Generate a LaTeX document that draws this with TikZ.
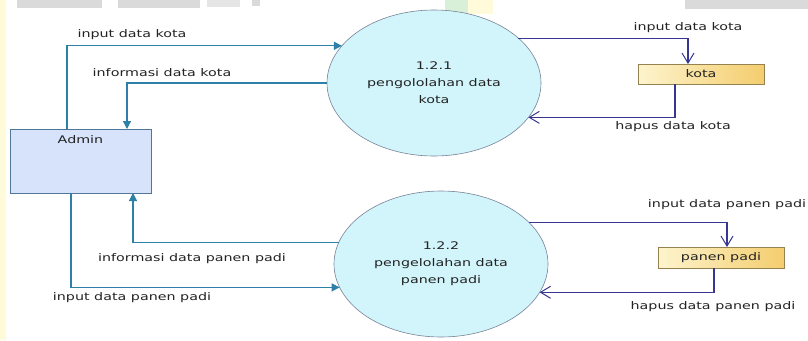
\documentclass[tikz,border=0pt]{standalone}
\usepackage{fontspec}
\setmainfont{DejaVu Sans}[FakeStretch=1.36]
\usetikzlibrary{shapes.geometric,arrows.meta}
\definecolor{leftc}{RGB}{45,128,168}
\definecolor{rightc}{RGB}{55,55,145}
\definecolor{adminfill}{RGB}{214,227,250}
\definecolor{adminborder}{RGB}{80,120,150}
\definecolor{procfill}{RGB}{210,245,252}
\definecolor{procborder}{RGB}{120,130,150}
\definecolor{storeL}{RGB}{253,244,205}
\definecolor{storeR}{RGB}{244,205,110}
\definecolor{storeborder}{RGB}{150,130,80}
\definecolor{noisegray}{RGB}{218,218,218}
\definecolor{noiseyellow}{RGB}{255,251,218}
\definecolor{noisegreen}{RGB}{215,240,215}
\definecolor{txt}{RGB}{35,35,35}
\tikzset{
  txtstyle/.style={font=\fontsize{10.5}{17}\selectfont, text=txt},
  entity/.style={draw=adminborder, line width=0.9pt, fill=adminfill, rectangle, minimum width=141pt, minimum height=64pt, inner sep=0pt, outer sep=0pt},
  proc/.style={draw=procborder, line width=0.6pt, fill=procfill, ellipse, minimum width=214pt, minimum height=146pt, inner sep=0pt, outer sep=0pt, align=center, txtstyle},
  store/.style={draw=storeborder, line width=0.7pt, left color=storeL, right color=storeR, rectangle, minimum width=126pt, minimum height=20pt, inner sep=0pt, outer sep=0pt, txtstyle},
  flowL/.style={draw=leftc, line width=1.2pt, -{Triangle[length=8pt,width=8pt]}},
  flowR/.style={draw=rightc, line width=1.1pt, -{Straight Barb[length=10pt,width=12pt,line width=1pt]}},
  lbl/.style={txtstyle, inner sep=0pt}
}
\begin{document}
\begin{tikzpicture}[x=1pt,y=-1pt]
\useasboundingbox (0,0) rectangle (808,340);
\fill[white] (0,0) rectangle (808,340);
% screenshot background artefacts
\fill[noiseyellow] (0,0) rectangle (6,340);
\fill[noisegray] (17,0) rectangle (102,8);
\fill[noisegray] (118,0) rectangle (200,8);
\fill[noisegray!70] (207,0) rectangle (240,7);
\fill[noisegray] (252,0) rectangle (260,6);
\fill[noisegreen] (445,0) rectangle (468,14);
\fill[noiseyellow] (468,0) rectangle (493,14);
\fill[noisegray] (685,0) rectangle (808,9);

% nodes
\node[entity] (admin) at (80.5,161) {};
\node[lbl] (admintxt) at ([yshift=-11pt]admin.north) {Admin};
\node[proc] (p1) at (434,83) {1.2.1\\pengololahan data\\kota};
\node[proc] (p2) at (441,264) {1.2.2\\pengelolahan data\\panen padi};
\node[store] (kota) at (701,74) {kota};
\node[store, minimum height=21pt] (padi) at (721,257.5) {panen padi};

% left flows
\draw[flowL] ([xshift=-13.5pt]admin.north) |- (p1.158.84);
\draw[flowL] (p1.180) -| ([xshift=46.5pt]admin.north);
\draw[flowL] (p2.168.37) -| ([xshift=52.5pt]admin.south);
\draw[flowL] ([xshift=-9.5pt]admin.south) |- (p2.193.4);

% right flows
\draw[flowR] (p1.28.12) -| ([xshift=-13pt]kota.north);
\draw[flowR] ([xshift=-26pt]kota.south) |- (p1.340.25);
\draw[flowR] (p2.25.3) -| ([xshift=6pt]padi.north);
\draw[flowR] ([xshift=-7pt]padi.south) |- (p2.344.2);

% labels
\node[lbl] (l1) at (132,35) {input data kota};
\node[lbl] (l2) at (162,73) {informasi data kota};
\node[lbl] (l3) at (192,259) {informasi data panen padi};
\node[lbl] (l4) at (132,298) {input data panen padi};
\node[lbl] (l5) at (688,28) {input data kota};
\node[lbl] (l6) at (673,127) {hapus data kota};
\node[lbl] (l7) at (727,205) {input data panen padi};
\node[lbl] (l8) at (713,307) {hapus data panen padi};
\end{tikzpicture}
\end{document}
